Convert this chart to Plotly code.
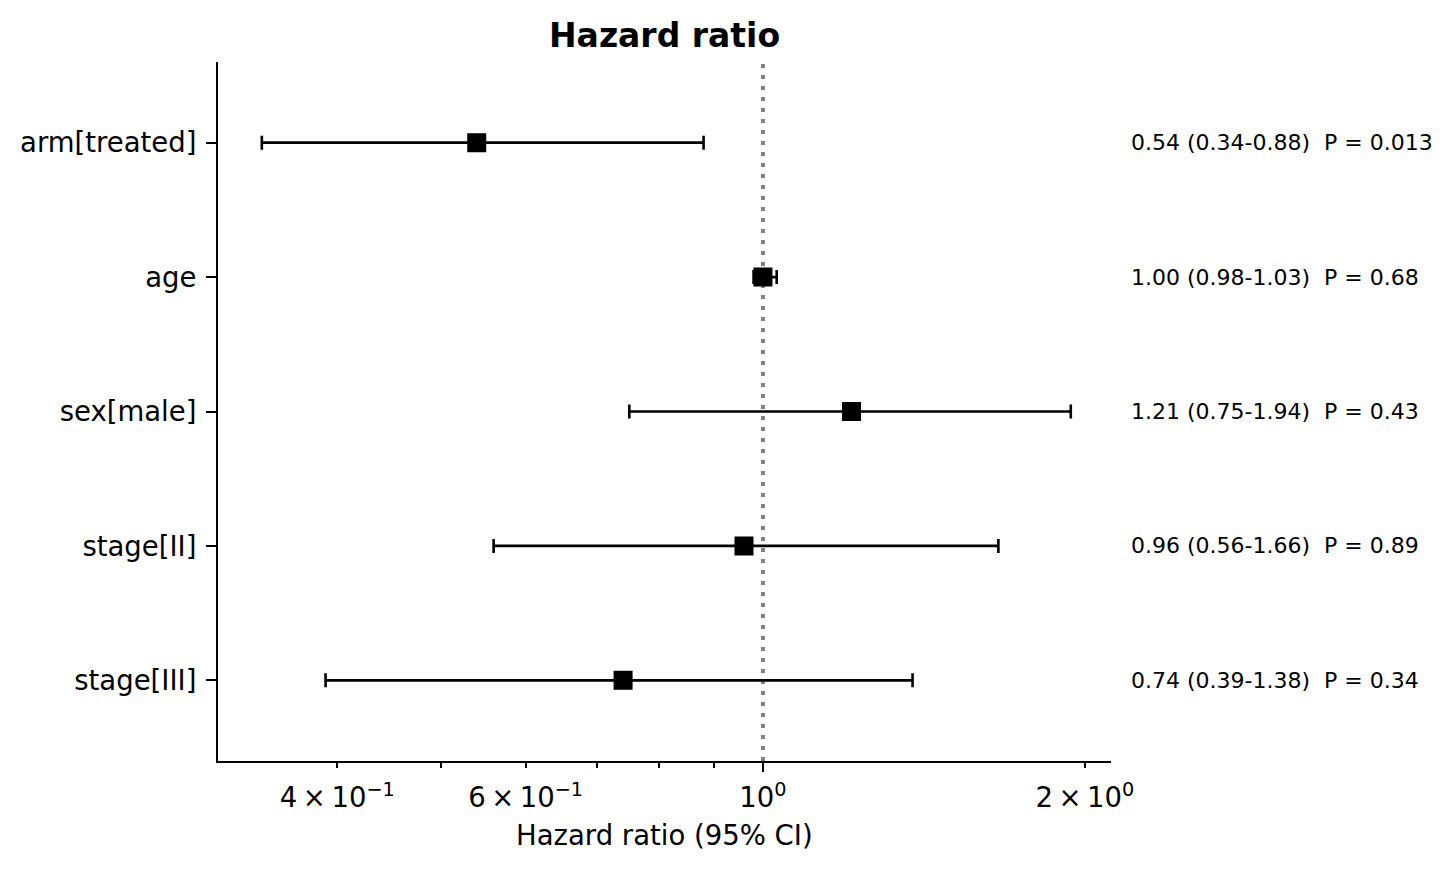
import plotly.graph_objects as go

# Data
covariates = ["arm[treated]", "age", "sex[male]", "stage[II]", "stage[III]"]
hazard_ratio = [0.54, 1.00, 1.21, 0.96, 0.74]
ci_lower = [0.34, 0.98, 0.75, 0.56, 0.39]
ci_upper = [0.88, 1.03, 1.94, 1.66, 1.38]
p_values = ["0.013", "0.68", "0.43", "0.89", "0.34"]

x_tick_vals = [0.4, 0.6, 1, 2]
x_tick_text = ["4\u2009×\u200910<sup>−1</sup>", "6\u2009×\u200910<sup>−1</sup>",
               "10<sup>0</sup>", "2\u2009×\u200910<sup>0</sup>"]
x_minor_vals = [0.5, 0.7, 0.8, 0.9]

FONT = "DejaVu Sans"
ypos = list(range(len(covariates)))

fig = go.Figure()

fig.add_trace(go.Scatter(
    x=hazard_ratio, y=ypos, mode="markers",
    marker=dict(symbol="square", size=17.5, color="black", line=dict(color="black", width=1.5)),
    error_x=dict(type="data", symmetric=False,
                 array=[u - h for u, h in zip(ci_upper, hazard_ratio)],
                 arrayminus=[h - l for h, l in zip(hazard_ratio, ci_lower)],
                 color="black", thickness=2.6, width=7),
    showlegend=False, hoverinfo="skip",
))

# invisible trace on overlay axis (carries the major tick at 1)
fig.add_trace(go.Scatter(x=[1], y=[0], xaxis="x2", mode="markers",
                         marker=dict(opacity=0), showlegend=False, hoverinfo="skip"))

fig.add_shape(type="line", xref="x", yref="paper", x0=1, x1=1, y0=0, y1=1,
              line=dict(color="#808080", width=4, dash="4px,7px"), layer="below")

for i, (h, l, u, p) in enumerate(zip(hazard_ratio, ci_lower, ci_upper, p_values)):
    fig.add_annotation(
        xref="paper", yref="y", x=1.0202, y=i, xanchor="left", yanchor="middle",
        text=f"{h:.2f} ({l:.2f}-{u:.2f})&nbsp;&nbsp;P = {p}", showarrow=False,
        font=dict(family=FONT, size=22, color="black"),
    )

fig.add_annotation(xref="paper", yref="paper", x=0.5, y=1, xanchor="center", yanchor="bottom",
                   yshift=5, text="<b>Hazard ratio</b>", showarrow=False,
                   font=dict(family=FONT, size=33, color="black"))

fig.add_annotation(xref="paper", yref="paper", x=0.5, y=0, xanchor="center", yanchor="middle",
                   yshift=-74, text="Hazard ratio (95% CI)", showarrow=False,
                   font=dict(family=FONT, size=27.5, color="black"))

xrange = [-0.5095, 0.3254]

fig.update_layout(
    width=1454, height=870,
    margin=dict(l=218, r=343, t=62, b=109),
    paper_bgcolor="white", plot_bgcolor="white",
    font=dict(family=FONT, size=27.5, color="black"),
    xaxis=dict(type="log", range=xrange, showgrid=False, zeroline=False,
               showline=True, linecolor="black", linewidth=2.2,
               tickmode="array", tickvals=x_tick_vals, ticktext=x_tick_text,
               ticks="outside", ticklen=5, tickwidth=1.7, tickcolor="black",
               tickfont=dict(family=FONT, size=27.5), ticklabelstandoff=6,
               minor=dict(tickmode="array", tickvals=x_minor_vals,
                          ticks="outside", ticklen=5, tickwidth=1.7, tickcolor="black")),
    xaxis2=dict(type="log", range=xrange, overlaying="x", side="bottom", anchor="y",
                showgrid=False, zeroline=False, showline=False,
                tickmode="array", tickvals=[1], showticklabels=False,
                ticks="outside", ticklen=10, tickwidth=2.2, tickcolor="black"),
    yaxis=dict(range=[4.6, -0.6], showgrid=False, zeroline=False,
               showline=True, linecolor="black", linewidth=2.2,
               tickmode="array", tickvals=ypos, ticktext=covariates,
               ticks="outside", ticklen=10, tickwidth=2.2, tickcolor="black",
               tickfont=dict(family=FONT, size=27.5), ticklabelstandoff=4),
)

fig.write_html("out.html")
